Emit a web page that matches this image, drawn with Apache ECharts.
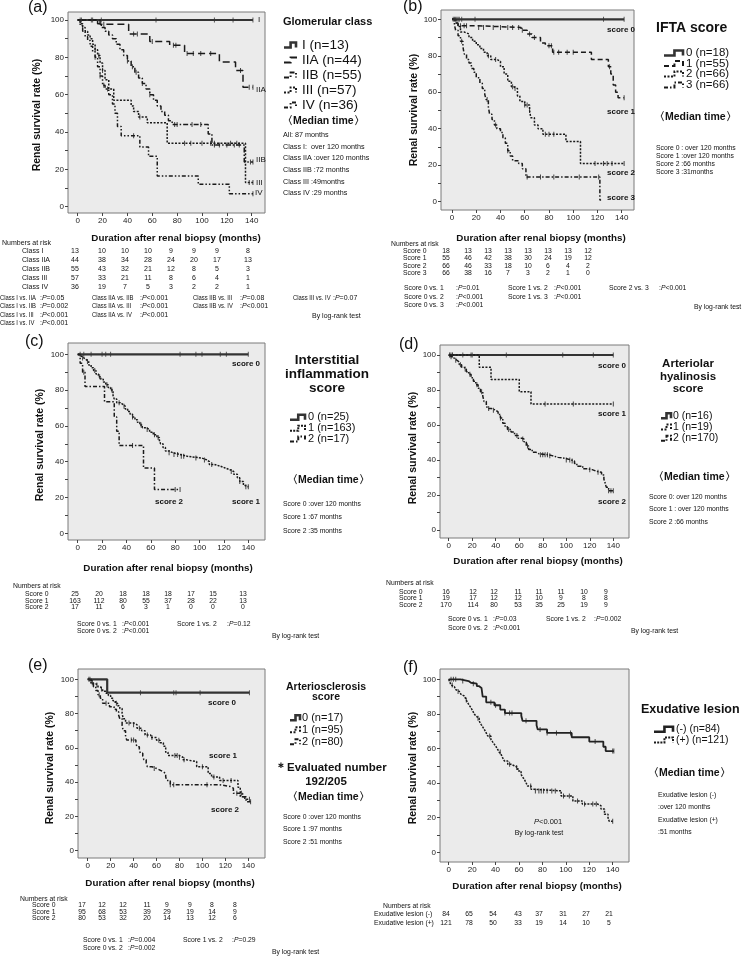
<!DOCTYPE html>
<html><head><meta charset="utf-8">
<script src="https://cdn.jsdelivr.net/npm/echarts@6.0.0/dist/echarts.min.js"></script>
<style>html,body{margin:0;padding:0;background:#fff}#c{width:742px;height:967px}</style>
</head><body><div id="c"></div><script>
// ---------- DATA ----------
const monthTicks = [0,20,40,60,80,100,120,140];
const pctTicks = [0,20,40,60,80,100];
const pctMinor = [0,10,20,30,40,50,60,70,80,90,100];

// (a) Glomerular class  [month, survival %]
const aI   = [[0,100],[141,100]];
const aIc  = [2,3,11,12,19,63,110,125,141];
const aIIA = [[0,100],[18,97.7],[41,92.5],[58,88.5],[74,86.5],[86,82],[114,77.5],[127,73],[133,64],[141,64]];
const aIIAc= [21,45,48,60,77,79,88,93,99,107,131,138,141];
const aIIB = [[0,100],[16,98],[19,96],[22,94],[25,92],[28,90],[31,87],[34,84],[37,81],[40,78],[43,75],[46,72],[49,69],[52,66],[55,63],[58,60],[61,57],[64,54],[67,51],[70,49],[73,46],[76,44],[105,39],[108,33],[134,24],[141,24]];
const aIIBc= [40,44,47,52,58,78,80,92,99,110,114,120,126,130,139,141];
const aIII = [[0,100],[2,98],[4,96],[6,94],[8,92],[10,90],[12,87],[14,84],[16,81],[18,77],[20,73],[22,68],[25,63],[29,57],[43,54],[45,51],[49,48],[56,45],[72,34],[135,13],[141,13]];
const aIIIc= [14,17,20,50,86,91,100,107,110,123,128,138,141];
const aIV  = [[0,100],[2,97],[4,94],[6,91],[8,89],[10,86],[12,83],[14,80],[16,75],[18,70],[20,65],[22,63],[25,60],[28,55],[30,50],[32,43],[35,38],[50,32],[57,27],[64,16.5],[97,12],[122,7],[141,7]];
const aIVc = [14,18,21,24,45,141];

// (b) IFTA score
const b0 = [[0,100],[142,100]];
const b0c = [1,2,3,4,5,6,8,19,125,142];
const b1 = [[0,100],[3,98],[5,96.5],[20,95.5],[57,94],[62,92],[66,90],[73,87],[77,85.5],[83,82],[115,78],[129,74],[131,70],[133,64],[135,60],[137,57],[142,57]];
const b1c = [7,10,12,22,26,34,40,46,50,55,58,64,68,80,82,84,88,95,100,130,142];
const b2 = [[0,100],[3,98],[5,96],[7,93],[10,92],[14,90],[17,88],[20,86],[23,84],[26,82],[29,80],[32,78],[37,77],[40,74],[43,70],[46,66],[49,63],[51,62],[54,58],[56,55],[60,53],[64,50],[65,46],[68,42],[71,40],[75,37],[94,33],[106,21],[142,21]];
const b2c = [30,36,50,52,60,62,64,77,80,84,118,125,128,132,142];
const b3 = [[0,100],[2,97],[3,94],[5,91],[7,88],[9,85],[10,81],[12,78],[14,76],[16,73],[18,71],[20,68],[23,65],[25,62],[27,59],[28,56],[30,52],[31,48],[33,45],[35,42],[37,40],[40,38],[42,35],[44,32],[46,28],[48,25],[50,22.5],[55,21],[58,18],[61,13.5],[122,1],[123,1]];
const b3c = [8,29,36,46,62,73,84,105,121];

// (c) Interstitial inflammation score
const c0 = [[0,100],[140,100]];
const c0c = [2,5,11,20,23,27,84,97,102,117,122,140];
const c1 = [[0,100],[1,99],[3,98],[5,97],[7,96],[9,94],[11,92.5],[13,91],[15,89],[17,87.5],[19,86],[21,84.5],[23,83],[25,81.5],[27,80],[29,77],[30,75],[32,73],[35,72],[37,71],[39,69.5],[41,68],[43,66.5],[45,65],[47,63.5],[49,62],[51,60.5],[53,59],[56,58],[59,56.5],[62,55],[65,53.5],[67,52],[68,50],[70,48],[72,46],[75,45],[78,44],[84,43],[90,42.5],[96,42],[102,41],[106,40],[108,38.5],[112,37.5],[117,36.5],[121,35.5],[125,34.5],[128,33],[131,31],[133,29],[136,27],[137,26],[140,26]];
const c1c = [4,8,14,18,24,28,34,38,45,52,57,63,66,75,79,82,85,87,97,104,110,126,133,138,140];
const c2 = [[0,100],[2,95],[4,90],[6,82],[22,73.5],[30,65],[32,57],[34,49],[54,36.5],[63,24.5],[84,24.5]];
const c2c = [5,45,80,84];

// (d) Arteriolar hyalinosis score
const d0 = [[0,100],[140,100]];
const d0c = [1,3,12,19,20,49,97,123,140];
const d1 = [[0,100],[26,93],[36,86],[60,79],[70,72],[140,72]];
const d1c = [1,3,82,106,140];
const d2 = [[0,100],[1,99],[3,98],[5,97],[7,96],[9,94.5],[11,93],[13,92],[15,90.5],[17,89],[19,87],[21,85],[23,83],[25,81],[27,79],[29,76.5],[30,73.5],[32,71],[33,69.5],[36,68.5],[40,67.5],[42,66],[44,64],[46,61],[48,59],[50,57.5],[53,56],[56,54],[59,52.5],[62,52],[64,50.5],[66,48],[68,46],[71,44.5],[74,43.5],[77,43],[85,42.5],[88,41.5],[93,41],[99,40],[104,39.5],[107,38],[109,36.5],[114,35],[118,34.5],[122,33.5],[126,33],[130,31.5],[132,29],[133,27],[134,24.5],[136,22.5],[140,22.5]];
const d2c = [2,6,10,14,18,24,28,34,38,44,51,58,63,67,78,80,82,84,86,100,103,105,120,127,136,138,140];

// (e) Arteriosclerosis score
const e0 = [[0,100],[17,92.2],[141,92.2]];
const e0c = [1,2,46,75,77,98,141];
const e1 = [[0,100],[2,99],[4,97.8],[6,96.7],[9,95.5],[11,94.4],[13,93],[16,91.8],[18,90.5],[20,89],[22,87.5],[24,86],[26,84.5],[28,83],[30,80],[31,77],[33,74.5],[40,73.5],[43,71.5],[47,70],[50,67.5],[55,66],[60,64.5],[63,63],[66,61],[68,57.5],[70,55.5],[80,54.5],[83,53],[86,52],[95,49],[105,45],[108,43],[115,41],[131,37],[133,31.5],[137,30],[141,30]];
const e1c = [3,8,12,25,36,40,45,52,56,62,76,78,80,84,100,110,118,125,141];
const e2 = [[0,100],[2,98],[5,95.7],[7,93.5],[9,91],[11,89],[13,86],[19,84],[23,82.5],[25,81],[27,79],[28,77],[30,73],[31,70],[33,67],[34,64.6],[42,62.5],[43,60.7],[45,58.5],[46,56.8],[48,55],[49,53],[51,51],[52,49],[56,48],[60,47],[63,46],[66,45],[68,43],[69,41],[72,38.5],[115,37.5],[124,36.5],[127,33.5],[135,31.5],[138,28.6],[142,28.6]];
const e2c = [4,10,16,38,40,58,72,75,104,130,134,142];

// (f) Exudative lesion
const fNeg = [[0,100],[10,99],[17,98],[19,97.5],[24,96],[26,95],[28,94],[29,90],[32,86.7],[39,85],[44,82.5],[48,80.5],[62,79],[63,76],[75,73.5],[76,71],[84,69],[105,66.5],[120,64],[132,61],[134,58.5],[141,58.5]];
const fNegc = [2,4,6,12,21,36,40,48,52,54,62,66,78,84,92,104,125,140,141];
const fPos = [[0,100],[1,98.3],[2,96.7],[3.5,95.8],[4.8,95],[6,94],[7.7,93],[9,92],[10.5,91.3],[12,90.3],[13.4,89.4],[15,88],[16.2,86.5],[17.5,85],[19,83.6],[20.5,81.7],[22,79.8],[23.5,78.6],[24.8,77.5],[26,75.8],[27.6,74],[29,72.5],[30.4,71],[32,69],[33.3,67.2],[36,65.3],[37.5,63.8],[39,62.4],[40.5,61],[41.8,59.5],[43,58],[44.7,56.6],[46,54.7],[47.5,52.8],[50.4,50.9],[53,50],[56,49],[59,47],[61.8,45],[63,43.5],[64.6,42.2],[66,40.2],[67.4,38.3],[70.3,36.4],[73,35.5],[96,32.6],[106,29.7],[114,27.9],[127,26.9],[130,25],[133,22],[136,20],[137,18],[140,18]];
const fPosc = [3,8,15,25,35,44,52,58,70,74,77,79,81,84,88,91,98,103,110,116,123,126,140];

// Numbers at risk
const riskARows = ['Class I','Class IIA','Class IIB','Class III','Class IV'];
const riskAVals = [[13,10,10,10,9,9,9,8],[44,38,34,28,24,20,17,13],[55,43,32,21,12,8,5,3],[57,33,21,11,8,6,4,1],[36,19,7,5,3,2,2,1]];
const riskBRows = ['Score 0','Score 1','Score 2','Score 3'];
const riskBVals = [[18,13,13,13,13,13,13,12],[55,46,42,38,30,24,19,12],[66,46,33,18,10,6,4,2],[66,38,16,7,3,2,1,0]];
const riskCRows = ['Score 0','Score 1','Score 2'];
const riskCVals = [[25,20,18,18,18,17,15,13],[163,112,80,55,37,28,22,13],[17,11,6,3,1,0,0,0]];
const riskDRows = ['Score 0','Score 1','Score 2'];
const riskDVals = [[16,12,12,11,11,11,10,9],[19,17,12,12,10,9,8,8],[170,114,80,53,35,25,19,9]];
const riskERows = ['Score 0','Score 1','Score 2'];
const riskEVals = [[17,12,12,11,9,9,8,8],[95,68,53,39,29,19,14,9],[80,53,32,20,14,13,12,6]];
const riskFRows = ['Exudative lesion (-)','Exudative lesion (+)'];
const riskFVals = [[84,65,54,43,37,31,27,21],[121,78,50,33,19,14,10,5]];

// ---------- LAYOUT ----------
const FONT = '"Liberation Sans", Arial, Helvetica, sans-serif';
const INK = '#1a1a1a';
const P = {
  a:{box:[68,12,265,213], x0:77.7, x140:251.7, y0:206.7, y100:20},
  b:{box:[441,10,634,210], x0:452, x140:621.7, y0:201.7, y100:19.3},
  c:{box:[68,343,265,540], x0:77.7, x140:248.3, y0:533.3, y100:354.3},
  d:{box:[440,345,629,538], x0:448.7, x140:613.3, y0:530, y100:355},
  e:{box:[78,669,265,858], x0:87.7, x140:248.3, y0:850.7, y100:679.3},
  f:{box:[440,669,629,862], x0:448.7, x140:612.7, y0:852.3, y100:679.3}
};
const keys = ['a','b','c','d','e','f'];
const grids=[], xAxes=[], yAxes=[], series=[], G=[];
keys.forEach((k,i)=>{
  const p=P[k], [l,t,r,b]=p.box;
  const sx=(p.x140-p.x0)/140, sy=(p.y0-p.y100)/100;
  grids.push({left:l, top:t, width:r-l, height:b-t, show:true, backgroundColor:'#ebebeb', borderColor:'#7a7a7a', borderWidth:1, containLabel:false});
  xAxes.push({gridIndex:i, type:'value', min:(l-p.x0)/sx, max:(r-p.x0)/sx,
    axisLine:{show:false,onZero:false}, splitLine:{show:false},
    axisTick:{show:true, length:3, customValues:monthTicks, lineStyle:{color:'#444'}},
    axisLabel:{customValues:monthTicks, fontSize:8, color:'#222', margin:4, fontFamily:FONT}});
  yAxes.push({gridIndex:i, type:'value', min:(p.y0-b)/sy, max:(p.y0-t)/sy,
    axisLine:{show:false,onZero:false}, splitLine:{show:false},
    axisTick:{show:true, length:3, customValues:pctMinor, lineStyle:{color:'#444'}},
    axisLabel:{customValues:pctTicks, fontSize:8, color:'#222', margin:4, fontFamily:FONT}});
});
const gi = {a:0,b:1,c:2,d:3,e:4,f:5};
function survAt(d,t){let s=d[0][1];for(const q of d){if(q[0]<=t)s=q[1];}return s;}
function km(p,data,cens,dash,w,col){
  const i=gi[p]; col=col||INK;
  series.push({type:'line', xAxisIndex:i, yAxisIndex:i, data, step:'end', showSymbol:false, symbol:'none', silent:true, animation:false, z:3,
    lineStyle:{color:col, width:w||1.5, type:dash||'solid'}});
  series.push({type:'scatter', xAxisIndex:i, yAxisIndex:i, data:cens.map(t=>[t,survAt(data,t)]), symbol:'rect', symbolSize:[1,5], silent:true, animation:false, z:4,
    itemStyle:{color:col}});
}
const SOLID={d:'solid',w:2.2,c:'#333'};
const S = {
  aI:SOLID, aIIA:{d:[7,4]}, aIIB:{d:[5,2,1.5,2]}, aIII:{d:[2,1.5]}, aIV:{d:[4,2,1.5,2,1.5,2]},
  b0:SOLID, b1:{d:[5,3]}, b2:{d:[2,1.5]}, b3:{d:[4,2,1.5,2]},
  c0:SOLID, c1:{d:[2,1.2]}, c2:{d:[4,2,1.5,2]},
  d0:SOLID, d1:{d:[2,1.5]}, d2:{d:[4,1.5,1.5,1.5]},
  e0:SOLID, e1:{d:[2,1.5]}, e2:{d:[4,2,1.5,2]},
  fNeg:{d:'solid',w:1.8,c:'#222'}, fPos:{d:[2,1.2]}
};
function K(p,name,data,cens){const s=S[name];km(p,data,cens,s.d,s.w,s.c);}
K('a','aI',aI,aIc);K('a','aIIA',aIIA,aIIAc);K('a','aIIB',aIIB,aIIBc);K('a','aIII',aIII,aIIIc);K('a','aIV',aIV,aIVc);
K('b','b0',b0,b0c);K('b','b1',b1,b1c);K('b','b2',b2,b2c);K('b','b3',b3,b3c);
K('c','c0',c0,c0c);K('c','c1',c1,c1c);K('c','c2',c2,c2c);
K('d','d0',d0,d0c);K('d','d1',d1,d1c);K('d','d2',d2,d2c);
K('e','e0',e0,e0c);K('e','e1',e1,e1c);K('e','e2',e2,e2c);
K('f','fNeg',fNeg,fNegc);K('f','fPos',fPos,fPosc);

// ---------- TEXT / DECORATION ----------
function T(x,y,text,size,o){o=o||{};
  G.push({type:'text', x, y, rotation:o.rot||0, scaleX:o.sx||1, silent:true, z:10,
    style:{text, font:(o.it?'italic ':'')+(o.bold?'bold ':'')+size+'px '+FONT, fill:o.fill||'#111', align:o.align||'left', verticalAlign:'middle'}});}
function PV(x,y,op,val,size){ // ":P=0.05" with italic P
  G.push({type:'text', x, y, silent:true, z:10, style:{text:'{n|:}{i|P}{n|'+op+val+'}', verticalAlign:'middle', align:'left',
    rich:{n:{font:size+'px '+FONT, fill:'#111'}, i:{font:'italic '+size+'px '+FONT, fill:'#111'}}}});}
function icon(x,y,w,st){
  const m=x+w*0.55;
  G.push({type:'polyline', silent:true, z:10, shape:{points:[[x,y+2.5],[m,y+2.5],[m,y-2.5],[x+w,y-2.5],[x+w,y+2.5]]},
    style:{stroke:st.c||INK, lineWidth:st.w?2.6:2, lineDash:Array.isArray(st.d)?st.d:null, fill:null}});
}
// panel letters
T(28,8,'(a)',16); T(403,7,'(b)',16); T(25,342,'(c)',16); T(399,345,'(d)',16); T(28,666,'(e)',16); T(403,668,'(f)',16);
// axis titles
const xt={a:[176,238],b:[541,238],c:[168,568],d:[538,561],e:[170,883],f:[537,886]};
const yt={a:[37,115],b:[414,110],c:[40,445],d:[413,448],e:[50,768],f:[413,768]};
keys.forEach(k=>{T(xt[k][0],xt[k][1],'Duration after renal biopsy (months)',9.8,{bold:true,align:'center'});
  T(yt[k][0],yt[k][1],'Renal survival rate (%)',10.5,{bold:true,align:'center',rot:Math.PI/2});});

// curve labels
[['I',258,20],['IIA',256,90],['IIB',256,160],['III',256,183],['IV',255,193]].forEach(a=>T(a[1],a[2],a[0],8));
[['score 0',607,30],['score 1',607,112],['score 2',607,173],['score 3',607,198]].forEach(a=>T(a[1],a[2],a[0],8,{bold:true}));
[['score 0',232,364],['score 2',155,502],['score 1',232,502]].forEach(a=>T(a[1],a[2],a[0],8,{bold:true}));
[['score 0',598,366],['score 1',598,414],['score 2',598,502]].forEach(a=>T(a[1],a[2],a[0],8,{bold:true}));
[['score 0',208,703],['score 1',209,756],['score 2',211,810]].forEach(a=>T(a[1],a[2],a[0],8,{bold:true}));
PV(534,822,'<','0.001',7.5); G[G.length-1].style.text='{i|P}{n|<0.001}';
T(539,833,'By log-rank test',7,{align:'center'});

// legends
T(283,22,'Glomerular class',11,{bold:true});
[['I (n=13)','aI'],['IIA (n=44)','aIIA'],['IIB (n=55)','aIIB'],['III (n=57)','aIII'],['IV (n=36)','aIV']].forEach((e,j)=>{const y=45+15*j;icon(284,y,12,S[e[1]]);T(302,y,e[0],13.5);});
T(282,121,'〈Median time〉',10.5,{bold:true});
['All: 87 months','Class I:  over 120 months','Class IIA :over 120 months','Class IIB :72 months','Class III :49months','Class IV :29 months'].forEach((s,j)=>T(283,135+11.7*j,s,7.2));

T(656,28,'IFTA score',14,{bold:true});
[['0 (n=18)','b0'],['1 (n=55)','b1'],['2 (n=66)','b2'],['3 (n=66)','b3']].forEach((e,j)=>{const y=[53,63.5,74,85][j];icon(664,y,19,S[e[1]]);T(686,y,e[0],11.5);});
T(654,117,'〈Median time〉',10.5,{bold:true});
['Score 0 : over 120 months','Score 1 :over 120 months','Score 2 :66 months','Score 3 :31months'].forEach((s,j)=>T(656,148+8.2*j,s,6.8));

['Interstitial','inflammation','score'].forEach((s,j)=>T(327,360+14.3*j,s,13.5,{bold:true,align:'center'}));
[['0 (n=25)','c0'],['1 (n=163)','c1'],['2 (n=17)','c2']].forEach((e,j)=>{const y=417.3+10.9*j;icon(290,y,15,S[e[1]]);T(308,y,e[0],11);});
T(287,480,'〈Median time〉',10.5,{bold:true});
['Score 0 :over 120 months','Score 1 :67 months','Score 2 :35 months'].forEach((s,j)=>T(283,504.3+13.2*j,s,6.8));

['Arteriolar','hyalinosis','score'].forEach((s,j)=>T(688,364+12.4*j,s,11.5,{bold:true,align:'center'}));
[['0 (n=16)','d0'],['1 (n=19)','d1'],['2 (n=170)','d2']].forEach((e,j)=>{const y=415.7+11.3*j;icon(661,y,10,S[e[1]]);T(673,y,e[0],10.5);});
T(653,477,'〈Median time〉',10.5,{bold:true});
['Score 0: over 120 months','Score 1 : over 120 months','Score 2 :66 months'].forEach((s,j)=>T(649,496.7+12.5*j,s,6.8));

['Arteriosclerosis','score'].forEach((s,j)=>T(326,687+10*j,s,10.5,{bold:true,align:'center'}));
[['0 (n=17)','e0'],['1 (n=95)','e1'],['2 (n=80)','e2']].forEach((e,j)=>{const y=717.7+12*j;icon(290,y,10,S[e[1]]);T(302,y,e[0],11);});
T(275,768,'＊Evaluated number',11.5,{bold:true});
T(326,782,'192/205',11.5,{bold:true,align:'center'});
T(287,797,'〈Median time〉',10.5,{bold:true});
['Score 0 :over 120 months','Score 1 :97 months','Score 2 :51 months'].forEach((s,j)=>T(283,816.7+12.5*j,s,6.8));

T(641,710,'Exudative lesion',12.5,{bold:true});
[['(-) (n=84)','fNeg'],['(+) (n=121)','fPos']].forEach((e,j)=>{const y=729.3+10.7*j;icon(654,y,19,S[e[1]]);T(676,y,e[0],10.5);});
T(648,773,'〈Median time〉',10.5,{bold:true});
['Exudative lesion (-)',':over 120 months','Exudative lesion (+)',':51 months'].forEach((s,j)=>T(658,795+12.4*j,s,6.8));

// risk tables
function risk(hx,hy,lx,rowsY,xs,rows,vals,fs){
  T(hx,hy,'Numbers at risk',fs);
  rows.forEach((r,j)=>{T(lx,rowsY[j],r,fs);vals[j].forEach((v,m)=>T(xs[m],rowsY[j],String(v),fs,{align:'center'}));});
}
risk(2,243,22,[251,260,269,278,287],[75,102,125,148,171,194,217,248],riskARows,riskAVals,7);
risk(391,244,403,[251,258.3,265.7,272.7],[446,468,488,508,528,548,568,588],riskBRows,riskBVals,6.8);
risk(13,586,25,[594,600.7,607.3],[75,99,123,146,168,191,213,243],riskCRows,riskCVals,6.8);
risk(386,583,399,[592,598.5,605],[446,473,494,518,539,561,584,606],riskDRows,riskDVals,6.8);
risk(20,899,32,[905,912,918.5],[82,102,123,147,167,190,212,235],riskERows,riskEVals,6.8);
risk(383,906,374,[914,923],[446,469,493,518,539,563,586,609],riskFRows,riskFVals,6.8);

// log-rank p values
function pl(x,y,lab,px,op,val,fs,sx){T(x,y,lab,fs,{sx:sx||1});PV(px,y,op,val,fs);}
const fa=7, sa=0.84;
pl(0,298,'Class I vs. IIA',40,'=','0.05',fa,sa);pl(0,306.5,'Class I vs. IIB',40,'=','0.002',fa,sa);pl(0,315,'Class I vs. III',40,'<','0.001',fa,sa);pl(0,323.5,'Class I vs. IV',40,'<','0.001',fa,sa);
pl(92,298,'Class IIA vs. IIB',140,'<','0.001',fa,sa);pl(92,306.5,'Class IIA vs. III',140,'<','0.001',fa,sa);pl(92,315,'Class IIA vs. IV',140,'<','0.001',fa,sa);
pl(193,298,'Class IIB vs. III',240,'=','0.08',fa,sa);pl(193,306.5,'Class IIB vs. IV',240,'<','0.001',fa,sa);
pl(293,298,'Class III vs. IV',333,'=','0.07',fa,sa);
T(312,316,'By log-rank test',7);
const fb=6.8;
pl(404,288.3,'Score 0 vs. 1',456,'=','0.01',fb);pl(404,296.7,'Score 0 vs. 2',456,'<','0.001',fb);pl(404,305,'Score 0 vs. 3',456,'<','0.001',fb);
pl(508,288.3,'Score 1 vs. 2',554,'<','0.001',fb);pl(508,296.7,'Score 1 vs. 3',554,'<','0.001',fb);
pl(609,288.3,'Score 2 vs. 3',659,'<','0.001',fb);
T(694,307,'By log-rank test',6.8);
pl(77,624,'Score 0 vs. 1',122,'<','0.001',fb);pl(77,630.7,'Score 0 vs. 2',122,'<','0.001',fb);pl(177,624,'Score 1 vs. 2',227,'=','0.12',fb);
T(272,636,'By log-rank test',6.8);
pl(448,619.3,'Score 0 vs. 1',493,'=','0.03',fb);pl(448,627.7,'Score 0 vs. 2',493,'<','0.001',fb);pl(546,619.3,'Score 1 vs. 2',594,'=','0.002',fb);
T(631,631,'By log-rank test',6.8);
pl(83,940,'Score 0 vs. 1',128,'=','0.004',fb);pl(83,948.3,'Score 0 vs. 2',128,'=','0.002',fb);pl(183,940,'Score 1 vs. 2',232,'=','0.29',fb);
T(272,952,'By log-rank test',6.8);

const chart = echarts.init(document.getElementById('c'), null, {renderer:'canvas'});
chart.setOption({animation:false, backgroundColor:'#fff', grid:grids, xAxis:xAxes, yAxis:yAxes, series, graphic:G});
</script></body></html>
